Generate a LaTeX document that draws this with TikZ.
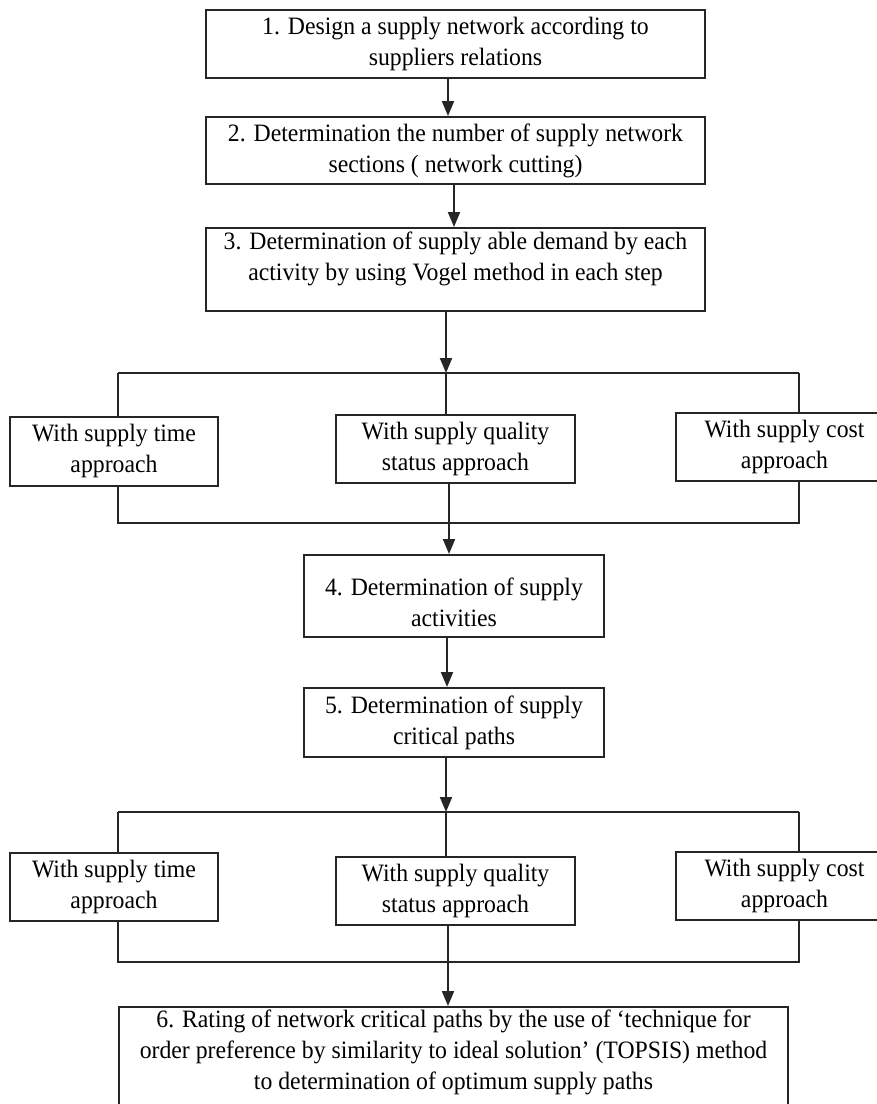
\documentclass[tikz,border=0pt]{standalone}
\usepackage{fontspec}
\setmainfont{Liberation Serif}[FakeStretch=0.95]
\usetikzlibrary{arrows.meta}
\begin{document}
\begin{tikzpicture}[x=0.5pt,y=-0.5pt,
  box/.style={draw=black!85, line width=1pt, align=center, inner sep=0pt,
    font=\fontsize{12.5}{15.5}\selectfont},
  conn/.style={draw=black!85, line width=1pt},
  arr/.style={conn, -{Triangle[width=6pt,length=7.5pt]}}]
\useasboundingbox (0,0) rectangle (877,1104);
% main chain
\node[box, minimum width=249.5pt, minimum height=34pt] (b1) at (455.5,44)
  {1. Design a supply network according to\\suppliers relations};
\node[box, minimum width=249.5pt, minimum height=33.5pt] (b2) at (455.5,150.5)
  {2. Determination the number of supply network\\sections ( network cutting)};
\node[box, minimum width=249.5pt, minimum height=41.5pt, text depth=13pt] (b3) at (455.5,269.5)
  {3. Determination of supply able demand by each\\activity by using Vogel method in each step};
% first branch
\node[box, minimum width=104pt, minimum height=34.5pt] (a1) at (114,451)
  {With supply time\\approach};
\node[box, minimum width=119.5pt, minimum height=34pt] (a2) at (455.5,449)
  {With supply quality\\status approach};
\node[box, minimum width=108.5pt, minimum height=34pt] (a3) at (784.5,447)
  {With supply cost\\approach};
\node[box, minimum width=150pt, minimum height=41pt] (b4) at (454,596)
  {\rule{0pt}{15pt}4. Determination of supply\\activities};
\node[box, minimum width=150pt, minimum height=34.5pt] (b5) at (454,722.5)
  {5. Determination of supply\\critical paths};
% second branch
\node[box, minimum width=104pt, minimum height=34pt] (c1) at (114,887)
  {With supply time\\approach};
\node[box, minimum width=119.5pt, minimum height=34pt] (c2) at (455.5,891)
  {With supply quality\\status approach};
\node[box, minimum width=108.5pt, minimum height=34pt] (c3) at (784.5,886)
  {With supply cost\\approach};
\node[box, minimum width=334.5pt, minimum height=53pt, text depth=10.7pt] (b6) at (453.5,1060)
  {6. Rating of network critical paths by the use of ‘technique for\\order preference by similarity to ideal solution’ (TOPSIS) method\\to determination of optimum supply paths};
% junction coordinates
\coordinate (j1) at (446,373);
\coordinate (j1l) at (118,373);
\coordinate (j1r) at (799,373);
\coordinate (k1) at (449,523);
\coordinate (k1l) at (118,523);
\coordinate (k1r) at (799,523);
\coordinate (j2) at (446,812);
\coordinate (j2l) at (118,812);
\coordinate (j2r) at (799,812);
\coordinate (k2) at (448,962);
\coordinate (k2l) at (118,962);
\coordinate (k2r) at (799,962);
% connectors
\draw[arr] ([xshift=-3.75pt]b1.south) -- ([xshift=-3.75pt]b2.north);
\draw[arr] ([xshift=-0.75pt]b2.south) -- ([xshift=-0.75pt]b3.north);
\draw[arr] (b3.south -| j1) -- (j1);
\draw[conn] (j1l) -- (j1r);
\draw[conn] (j1l) -- (j1l |- a1.north);
\draw[conn] (j1) -- (j1 |- a2.north);
\draw[conn] (j1r) -- (j1r |- a3.north);
\draw[conn] (a1.south -| k1l) -- (k1l) -- (k1r) -- (a3.south -| k1r);
\draw[arr] (a2.south -| k1) -- (k1 |- b4.north);
\draw[arr] ([xshift=-3.5pt]b4.south) -- ([xshift=-3.5pt]b5.north);
\draw[arr] (b5.south -| j2) -- (j2);
\draw[conn] (j2l) -- (j2r);
\draw[conn] (j2l) -- (j2l |- c1.north);
\draw[conn] (j2) -- (j2 |- c2.north);
\draw[conn] (j2r) -- (j2r |- c3.north);
\draw[conn] (c1.south -| k2l) -- (k2l) -- (k2r) -- (c3.south -| k2r);
\draw[arr] (c2.south -| k2) -- (k2 |- b6.north);
\end{tikzpicture}
\end{document}
